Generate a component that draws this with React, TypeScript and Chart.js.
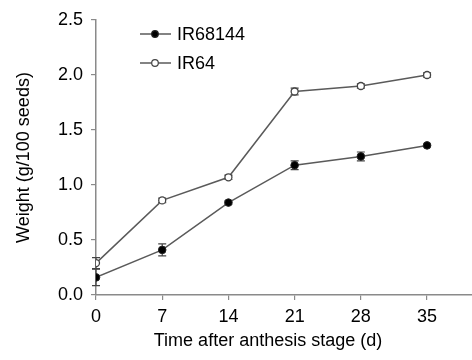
import { useEffect, useRef } from "react";
import { Chart, registerables } from "chart.js";

Chart.register(...registerables);

const days = [0, 7, 14, 21, 28, 35];
const seriesNames = ["IR68144", "IR64"];
const ir68144 = [0.16, 0.41, 0.84, 1.18, 1.26, 1.36];
const ir68144Err = [0.075, 0.055, 0.015, 0.04, 0.04, 0.01];
const ir64 = [0.29, 0.86, 1.07, 1.85, 1.9, 2.0];
const ir64Err = [0.05, 0.02, 0.02, 0.03, 0.02, 0.02];
const xTickValues = [0, 7, 14, 21, 28, 35];
const xTitle = "Time after anthesis stage (d)";
const yTitle = "Weight (g/100 seeds)";

const FONT = "'Liberation Sans', Arial, Helvetica, sans-serif";
const LINE = "#5a5a5a";
const AXIS = "#8a8a8a";
const errors = [ir68144Err, ir64Err];

const errorBars = {
  id: "errorBars",
  beforeDatasetsDraw(chart: any) {
    const ctx = chart.ctx;
    const xs = chart.scales.x;
    const ys = chart.scales.y;
    ctx.save();
    ctx.strokeStyle = "#444";
    ctx.lineWidth = 1.2;
    chart.data.datasets.forEach((ds: any, i: number) => {
      ds.data.forEach((p: any, j: number) => {
        const e = errors[i][j];
        const px = xs.getPixelForValue(p.x);
        const t = ys.getPixelForValue(p.y + e);
        const b = ys.getPixelForValue(p.y - e);
        ctx.beginPath();
        ctx.moveTo(px, t);
        ctx.lineTo(px, b);
        ctx.moveTo(px - 4, t);
        ctx.lineTo(px + 4, t);
        ctx.moveTo(px - 4, b);
        ctx.lineTo(px + 4, b);
        ctx.stroke();
      });
    });
    ctx.restore();
  },
};

const decorations = {
  id: "decorations",
  afterDraw(chart: any) {
    const ctx = chart.ctx;
    const area = chart.chartArea;
    ctx.save();
    // legend
    const lx = area.left + 44;
    const ly = [area.top + 14, area.top + 43];
    chart.data.datasets.forEach((ds: any, i: number) => {
      const y = ly[i];
      ctx.strokeStyle = LINE;
      ctx.lineWidth = 1.5;
      ctx.beginPath();
      ctx.moveTo(lx, y);
      ctx.lineTo(lx + 31, y);
      ctx.stroke();
      ctx.beginPath();
      ctx.arc(lx + 15, y, 3.3, 0, Math.PI * 2);
      ctx.fillStyle = ds.pointBackgroundColor;
      ctx.fill();
      ctx.strokeStyle = ds.pointBorderColor;
      ctx.lineWidth = 1.2;
      ctx.stroke();
      ctx.fillStyle = "#000";
      ctx.font = `18px ${FONT}`;
      ctx.textBaseline = "middle";
      ctx.textAlign = "left";
      ctx.fillText(ds.label, lx + 37, y + 1);
    });
    // axis titles
    ctx.fillStyle = "#000";
    ctx.font = `18px ${FONT}`;
    ctx.textAlign = "center";
    ctx.textBaseline = "alphabetic";
    ctx.fillText(xTitle, 268, 346);
    ctx.translate(29, (area.top + area.bottom) / 2);
    ctx.rotate(-Math.PI / 2);
    ctx.fillText(yTitle, 0, 0);
    ctx.restore();
  },
};

export default function App() {
  const ref = useRef<HTMLCanvasElement>(null);
  useEffect(() => {
    if (!ref.current) return;
    const chart = new Chart(ref.current, {
      type: "line",
      data: {
        datasets: [
          {
            label: seriesNames[0],
            data: days.map((d, i) => ({ x: d, y: ir68144[i] })),
            borderColor: LINE,
            borderWidth: 1.5,
            pointBackgroundColor: "#000",
            pointBorderColor: "#222",
            pointBorderWidth: 1,
            pointRadius: 3.8,
            tension: 0,
          },
          {
            label: seriesNames[1],
            data: days.map((d, i) => ({ x: d, y: ir64[i] })),
            borderColor: LINE,
            borderWidth: 1.5,
            pointBackgroundColor: "#fff",
            pointBorderColor: "#444",
            pointBorderWidth: 1.3,
            pointRadius: 3.5,
            tension: 0,
          },
        ],
      },
      options: {
        animation: false,
        responsive: false,
        maintainAspectRatio: false,
        layout: { padding: { top: 20, right: 0, left: 0, bottom: 0 }, autoPadding: false },
        plugins: { legend: { display: false }, tooltip: { enabled: false } },
        scales: {
          x: {
            type: "linear",
            min: 0,
            max: 39.75,
            afterBuildTicks: (s: any) => {
              s.ticks = xTickValues.map((v) => ({ value: v }));
            },
            afterFit: (s: any) => {
              s.height = 65;
            },
            grid: { drawOnChartArea: false, drawTicks: true, tickLength: 5, color: AXIS, lineWidth: 1.2 },
            border: { display: true, color: AXIS, width: 1.5 },
            ticks: { color: "#000", font: { family: FONT, size: 18 }, padding: 6, maxRotation: 0 },
          },
          y: {
            min: 0,
            max: 2.5,
            afterFit: (s: any) => {
              s.width = 96;
            },
            grid: { drawOnChartArea: false, drawTicks: true, tickLength: 5, color: AXIS, lineWidth: 1.2 },
            border: { display: true, color: AXIS, width: 1.5 },
            ticks: {
              stepSize: 0.5,
              color: "#000",
              font: { family: FONT, size: 18 },
              padding: 8,
              callback: (v: any) => Number(v).toFixed(1),
            },
          },
        },
      },
      plugins: [errorBars, decorations],
    });
    return () => chart.destroy();
  }, []);
  return (
    <div style={{ position: "fixed", left: 0, top: 0, width: 472, height: 360, background: "#fff" }}>
      <canvas ref={ref} width={472} height={360} style={{ display: "block" }} />
    </div>
  );
}
